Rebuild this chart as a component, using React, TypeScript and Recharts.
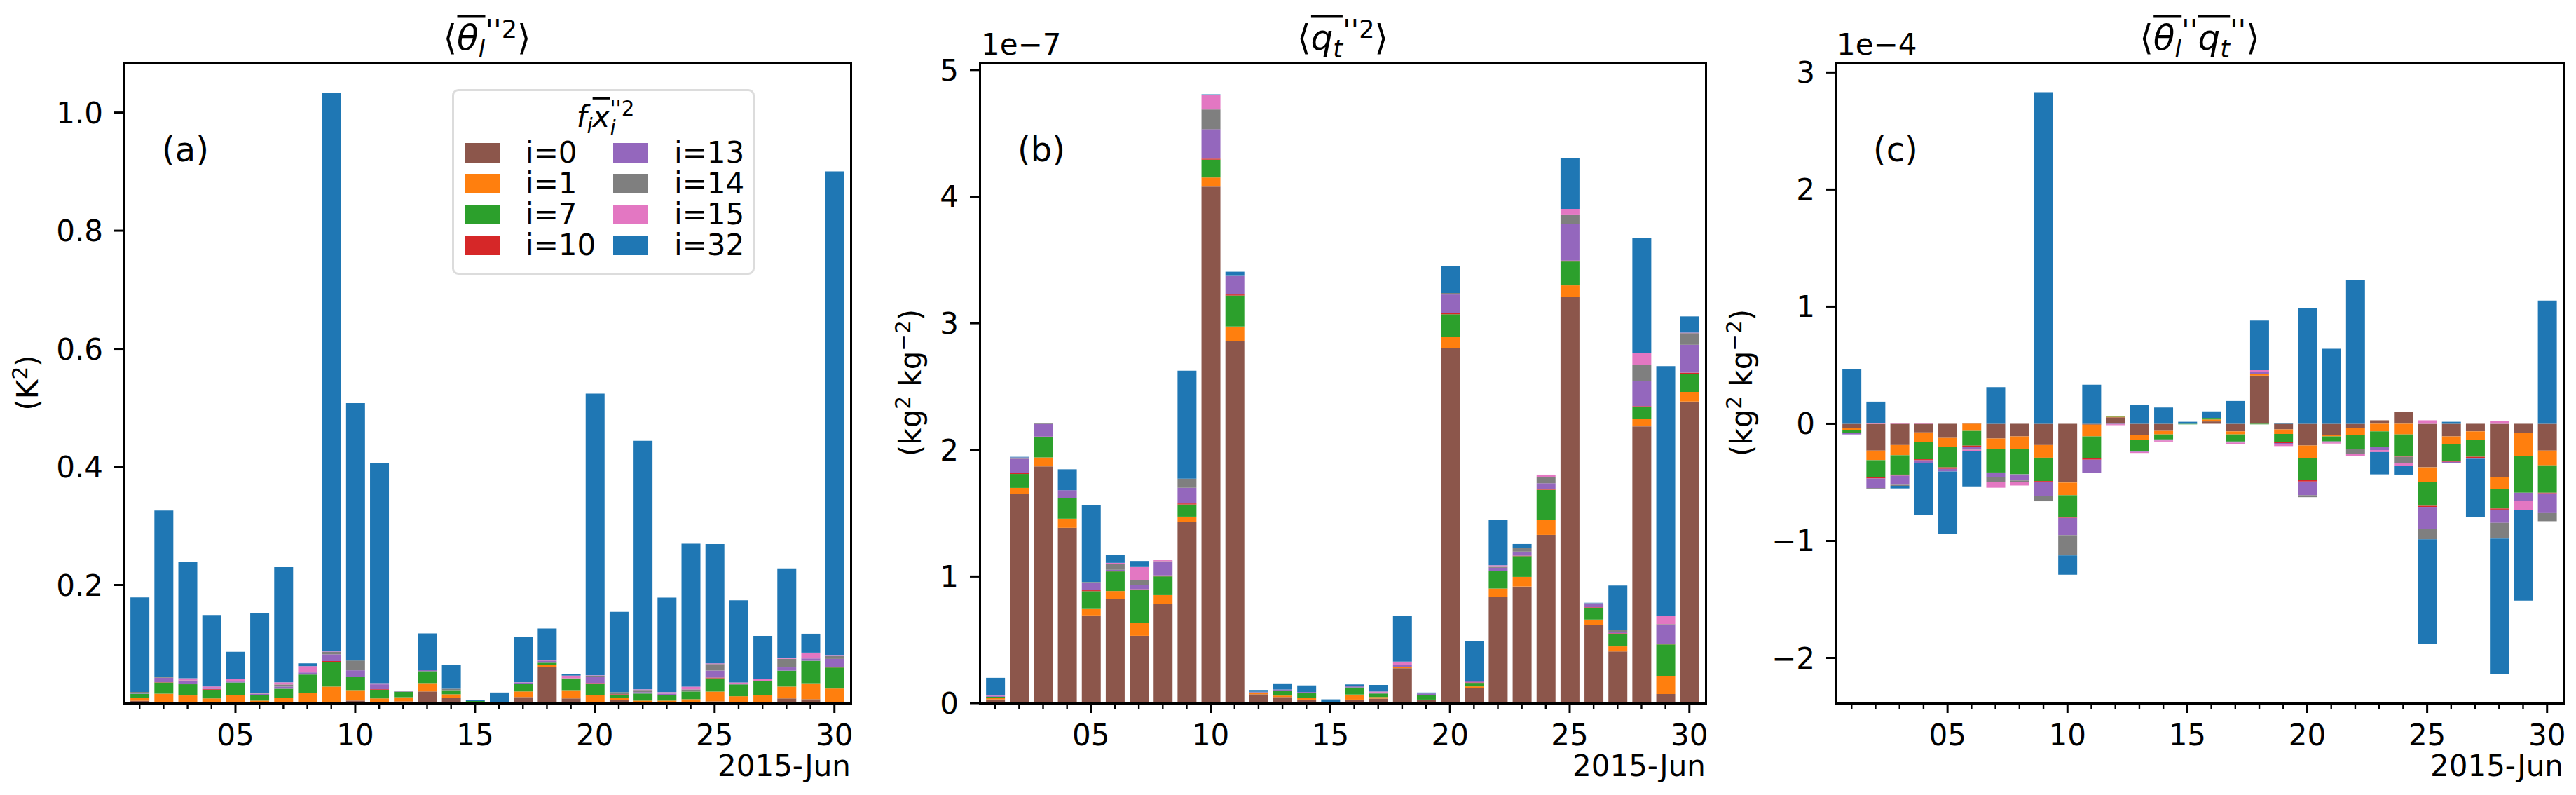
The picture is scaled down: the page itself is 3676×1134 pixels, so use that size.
import React from "react";
import { BarChart, Bar, XAxis, YAxis } from "recharts";

// days of June 2015
const days = [1, 2, 3, 4, 5, 6, 7, 8, 9, 10, 11, 12, 13, 14, 15, 16, 17, 18, 19, 20, 21, 22, 23, 24, 25, 26, 27, 28, 29, 30];

const seriesKeys = ["i0", "i1", "i7", "i10", "i13", "i14", "i15", "i32"];
const seriesNames = ["i=0", "i=1", "i=7", "i=10", "i=13", "i=14", "i=15", "i=32"];
const seriesColors = ["#8c564b", "#ff7f0e", "#2ca02c", "#d62728", "#9467bd", "#7f7f7f", "#e377c2", "#1f77b4"];

// (a) theta_l variance, K^2
const thI0 = [0.004, 0.002, 0.001, 0.001, 0.001, 0, 0.002, 0, 0.001, 0.0043, 0, 0.003, 0.0198, 0.009, 0, 0, 0.0103, 0.0613, 0.008, 0, 0.0055, 0, 0, 0, 0.003, 0.001, 0, 0.008, 0.0067, 0.001];
const thI1 = [0.005, 0.014, 0.012, 0.007, 0.013, 0.0043, 0.007, 0.0174, 0.027, 0.0178, 0.008, 0.007, 0.0142, 0.006, 0.002, 0.002, 0.0095, 0.0036, 0.014, 0.0138, 0.0036, 0.0043, 0.0043, 0.0067, 0.0166, 0.0107, 0.0138, 0.02, 0.027, 0.0237];
const thI7 = [0.007, 0.019, 0.019, 0.0146, 0.021, 0.0095, 0.0154, 0.031, 0.042, 0.0225, 0.0146, 0.0095, 0.0202, 0.007, 0.0016, 0, 0.013, 0.0036, 0.02, 0.019, 0.005, 0.012, 0.0095, 0.013, 0.0225, 0.02, 0.023, 0.027, 0.038, 0.0356];
const thI10 = [0, 0.0005, 0.0005, 0.001, 0, 0, 0, 0, 0.0012, 0, 0.001, 0, 0, 0, 0, 0, 0, 0, 0, 0.0012, 0.001, 0, 0, 0, 0.0012, 0, 0, 0, 0, 0.0012];
const thI13 = [0.001, 0.0075, 0.0055, 0.001, 0.0016, 0.002, 0.0036, 0.0036, 0.0115, 0.011, 0.0083, 0.0005, 0.0016, 0, 0, 0, 0.0016, 0.0036, 0, 0.0107, 0, 0.0024, 0.0024, 0, 0.0119, 0.001, 0, 0.0055, 0.004, 0.0134];
const thI14 = [0.002, 0.0016, 0.0005, 0, 0, 0.0005, 0.0036, 0, 0.004, 0.0166, 0, 0, 0, 0.0024, 0, 0, 0, 0, 0, 0.0016, 0.0036, 0.0036, 0, 0.0036, 0.011, 0, 0, 0.0146, 0, 0.0047];
const thI15 = [0, 0.0005, 0.0036, 0.0036, 0.0043, 0.0016, 0.0036, 0.0107, 0.0008, 0, 0.002, 0.0005, 0.0008, 0, 0, 0, 0.0008, 0.0012, 0.0047, 0.0008, 0, 0.001, 0.0024, 0.0047, 0.0012, 0.0024, 0.0043, 0.0012, 0.0099, 0.0008];
const thI32 = [0.16, 0.281, 0.197, 0.121, 0.046, 0.135, 0.195, 0.0047, 0.946, 0.436, 0.373, 0, 0.0615, 0.04, 0.002, 0.016, 0.077, 0.053, 0.0024, 0.477, 0.136, 0.421, 0.16, 0.242, 0.202, 0.139, 0.073, 0.152, 0.032, 0.82];

// (b) q_t variance, units of 1e-7 kg^2 kg^-2
const qtI0 = [0.03, 1.65, 1.87, 1.385, 0.693, 0.82, 0.532, 0.785, 1.433, 4.079, 2.858, 0.07, 0.048, 0.028, 0, 0.028, 0.036, 0.276, 0.024, 2.802, 0.12, 0.841, 0.921, 1.329, 3.207, 0.62, 0.408, 2.186, 0.072, 2.382];
const qtI1 = [0.01, 0.05, 0.07, 0.072, 0.056, 0.065, 0.104, 0.068, 0.04, 0.072, 0.116, 0.01, 0.012, 0.016, 0, 0.04, 0.012, 0.008, 0.004, 0.088, 0.012, 0.064, 0.076, 0.116, 0.092, 0.04, 0.04, 0.056, 0.144, 0.076];
const qtI7 = [0.01, 0.11, 0.16, 0.16, 0.135, 0.155, 0.255, 0.148, 0.096, 0.141, 0.245, 0.005, 0.04, 0.036, 0, 0.056, 0.028, 0.004, 0.036, 0.181, 0.028, 0.136, 0.164, 0.24, 0.188, 0.093, 0.096, 0.1, 0.248, 0.144];
const qtI10 = [0, 0.01, 0.005, 0.005, 0.007, 0.005, 0.008, 0.008, 0.008, 0.008, 0.008, 0, 0, 0, 0, 0, 0, 0, 0, 0.008, 0.004, 0.004, 0.004, 0.008, 0.008, 0.004, 0.008, 0.004, 0.004, 0.008];
const qtI13 = [0.005, 0.11, 0.1, 0.06, 0.06, 0.008, 0.032, 0.108, 0.124, 0.232, 0.148, 0.005, 0.008, 0.008, 0, 0.008, 0.008, 0.016, 0.012, 0.148, 0.008, 0.024, 0.032, 0.044, 0.288, 0.024, 0.008, 0.196, 0.152, 0.22];
const qtI14 = [0, 0.005, 0.005, 0, 0.005, 0.047, 0.043, 0.004, 0.072, 0.156, 0, 0, 0, 0, 0, 0, 0, 0, 0, 0.012, 0, 0.008, 0.032, 0.048, 0.076, 0.004, 0.02, 0.128, 0.004, 0.092];
const qtI15 = [0.005, 0.005, 0, 0, 0, 0.008, 0.101, 0.008, 0, 0.116, 0.004, 0, 0, 0, 0, 0, 0.008, 0.024, 0, 0, 0.004, 0.012, 0, 0.02, 0.044, 0.004, 0, 0.096, 0.065, 0.004];
const qtI32 = [0.14, 0.005, 0, 0.165, 0.605, 0.065, 0.048, 0, 0.853, 0.004, 0.028, 0.014, 0.048, 0.052, 0.03, 0.016, 0.052, 0.361, 0.008, 0.212, 0.312, 0.356, 0.028, 0, 0.404, 0.004, 0.349, 0.905, 1.973, 0.128];

// (c) covariance, units of 1e-4 kg^2 kg^-2
const cvI0 = [-0.035, -0.229, -0.182, -0.074, -0.121, 0.004, -0.126, -0.108, -0.182, -0.502, -0.008, 0.055, -0.095, -0.061, 0, 0.02, -0.065, 0.411, -0.048, -0.186, -0.095, -0.035, 0.03, 0.1, -0.372, -0.108, -0.065, -0.455, -0.078, -0.229];
const cvI1 = [-0.017, -0.082, -0.087, -0.082, -0.078, -0.061, -0.091, -0.108, -0.108, -0.108, -0.1, 0.005, -0.043, -0.03, 0, 0.017, -0.026, 0.013, -0.039, -0.108, -0.013, -0.061, -0.065, -0.091, -0.126, -0.065, -0.074, -0.104, -0.199, -0.126];
const cvI7 = [-0.026, -0.147, -0.165, -0.147, -0.173, -0.126, -0.199, -0.216, -0.199, -0.19, -0.186, 0.003, -0.095, -0.043, -0.005, 0.013, -0.061, -0.005, -0.069, -0.186, -0.043, -0.121, -0.134, -0.182, -0.203, -0.143, -0.143, -0.165, -0.312, -0.234];
const cvI10 = [0, -0.009, -0.009, -0.009, -0.013, -0.009, 0, 0, -0.009, -0.004, -0.013, 0, -0.004, 0, 0, 0, 0, 0, -0.009, -0.013, 0, 0, 0, -0.009, -0.009, -0.009, -0.009, -0.009, 0, -0.005];
const cvI13 = [-0.013, -0.082, -0.078, -0.026, -0.022, -0.017, -0.039, -0.052, -0.121, -0.147, -0.113, -0.004, -0.004, -0.009, 0, 0, -0.009, 0.017, -0.009, -0.117, -0.009, 0, -0.026, 0, -0.19, -0.013, -0.009, -0.113, -0.069, -0.169];
const cvI14 = [0, -0.009, -0.009, 0, 0, -0.009, -0.039, -0.013, -0.043, -0.173, 0, 0, 0, 0, 0, 0, 0, 0, 0, -0.017, 0, -0.043, 0, -0.052, -0.087, 0, 0, -0.134, 0, -0.069];
const cvI15 = [0, 0.003, 0.003, 0.003, 0, -0.009, -0.052, -0.03, 0, 0, 0, -0.008, -0.009, -0.009, 0, 0, -0.013, 0.017, -0.017, 0, -0.009, -0.017, -0.017, -0.026, 0.03, 0, 0, 0.026, -0.078, 0];
const cvI32 = [0.468, 0.186, -0.022, -0.437, -0.532, -0.303, 0.312, 0, 2.831, -0.165, 0.333, 0.005, 0.16, 0.139, 0.017, 0.056, 0.195, 0.424, 0.008, 0.991, 0.641, 1.225, -0.19, -0.074, -0.896, 0.017, -0.498, -1.156, -0.775, 1.052];

const ticksA = [0.2, 0.4, 0.6, 0.8, 1.0];
const ticksB = [0, 1, 2, 3, 4, 5];
const ticksC = [-2, -1, 0, 1, 2, 3];

const FONT = "'DejaVu Sans', sans-serif";
const TICK_FS = 42;

function buildRows(cols: number[][]) {
  return days.map((d, k) => {
    const row: any = { day: d };
    seriesKeys.forEach((key, s) => {
      row[key] = cols[s][k];
    });
    return row;
  });
}

const rowsA = buildRows([thI0, thI1, thI7, thI10, thI13, thI14, thI15, thI32]);
const rowsB = buildRows([qtI0, qtI1, qtI7, qtI10, qtI13, qtI14, qtI15, qtI32]);
const rowsC = buildRows([cvI0, cvI1, cvI7, cvI10, cvI13, cvI14, cvI15, cvI32]);

const DayTick = (props: any) => {
  const { x, y, payload } = props;
  const major = payload.value % 5 === 0;
  const len = major ? 14 : 8;
  return (
    <g>
      <line x1={x} x2={x} y1={y} y2={y + len} stroke="#000" strokeWidth={major ? 3 : 2.4} />
      {major && (
        <text x={x} y={y + 60} textAnchor="middle" fontSize={TICK_FS} fontFamily={FONT} fill="#000">
          {String(payload.value).padStart(2, "0")}
        </text>
      )}
    </g>
  );
};

const ValueTick = (props: any) => {
  const { x, y, payload, fmt } = props;
  return (
    <g>
      <line x1={x} x2={x - 14} y1={y} y2={y} stroke="#000" strokeWidth={3} />
      <text x={x - 30} y={y + 15} textAnchor="end" fontSize={TICK_FS} fontFamily={FONT} fill="#000">
        {fmt(payload.value)}
      </text>
    </g>
  );
};

const fmtA = (v: number) => v.toFixed(1);
const fmtInt = (v: number) => (v < 0 ? "\u2212" + Math.abs(v) : String(v));

type PanelProps = {
  left: number;
  width: number;
  yw: number;
  right: number;
  rows: any[];
  domain: [number, number];
  ticks: number[];
  fmt: (v: number) => string;
};

function Panel({ left, width, yw, right, rows, domain, ticks, fmt }: PanelProps) {
  return (
    <div style={{ position: "absolute", left, top: 0 }}>
      <BarChart
        width={width}
        height={1134}
        data={rows}
        stackOffset="sign"
        margin={{ top: 89, right, bottom: 0, left: 0 }}
      >
        <XAxis
          dataKey="day"
          type="number"
          domain={[0.35, 30.68]}
          allowDataOverflow
          ticks={days}
          interval={0}
          height={131}
          axisLine={false}
          tickLine={false}
          tickSize={0}
          tickMargin={0}
          tick={(p: any) => <DayTick {...p} />}
        />
        <YAxis
          type="number"
          domain={domain}
          allowDataOverflow
          ticks={ticks}
          interval={0}
          width={yw}
          axisLine={false}
          tickLine={false}
          tickSize={0}
          tickMargin={0}
          tick={(p: any) => <ValueTick {...p} fmt={fmt} />}
        />
        {seriesKeys.map((key, s) => (
          <Bar
            key={key}
            dataKey={key}
            name={seriesNames[s]}
            stackId="s"
            fill={seriesColors[s]}
            barSize={27}
            isAnimationActive={false}
          />
        ))}
      </BarChart>
    </div>
  );
}

// overline drawn as a top border so it sits clear of the glyphs
const Ov = ({ children }: any) => (
  <span style={{ display: "inline-block", borderTop: "3px solid #000", paddingTop: 4, lineHeight: 1 }}>{children}</span>
);
const Sub = ({ children }: any) => (
  <span style={{ fontSize: "0.7em", position: "relative", top: "0.3em" }}>{children}</span>
);
const Sup = ({ children }: any) => (
  <span style={{ fontSize: "0.7em", position: "relative", top: "-0.5em" }}>{children}</span>
);
const Primes = () => (
  <span style={{ fontSize: "0.85em", position: "relative", top: "-0.3em", fontStyle: "italic" }}>''</span>
);

const abs = (l: number, t: number, extra: any = {}) => ({ position: "absolute" as const, left: l, top: t, ...extra });

function Spine({ l, r }: { l: number; r: number }) {
  return (
    <div
      style={abs(l - 1.5, 89 - 1.5, {
        width: r - l + 3,
        height: 1003 - 89 + 3,
        border: "3px solid #000",
        boxSizing: "border-box",
        pointerEvents: "none",
      })}
    />
  );
}

function Centered({ x, y, size, children, rotate }: any) {
  return (
    <div
      style={abs(x, y, {
        transform: `translate(-50%, -50%)${rotate ? " rotate(-90deg)" : ""}`,
        fontSize: size,
        whiteSpace: "nowrap",
        lineHeight: 1,
      })}
    >
      {children}
    </div>
  );
}

function LegendBox() {
  const rows = [0, 1, 2, 3];
  return (
    <div
      style={abs(645, 127, {
        width: 432,
        height: 265,
        border: "3px solid #dcdcdc",
        borderRadius: 9,
        background: "#fff",
        boxSizing: "border-box",
      })}
    >
      <div style={abs(216, 38, { transform: "translate(-50%, -50%)", fontSize: 42, whiteSpace: "nowrap", lineHeight: 1 })}>
        <i>f</i>
        <Sub>
          <i>i</i>
        </Sub>
        <Ov>
          <i>x</i>
        </Ov>
        <span
          style={{
            display: "inline-flex",
            flexDirection: "column",
            verticalAlign: "middle",
            fontSize: "0.7em",
            lineHeight: 0.95,
          }}
        >
          <span>
            <i>''</i>2
          </span>
          <span>
            <i>i</i>
          </span>
        </span>
      </div>
      {[0, 1].map((c) =>
        rows.map((r) => {
          const s = c * 4 + r;
          const cy = 91 + r * 44 - 3;
          return (
            <React.Fragment key={s}>
              <div style={abs(c === 0 ? 15 : 227, cy - 14, { width: 50, height: 28, background: seriesColors[s] })} />
              <div style={abs(c === 0 ? 102 : 314, cy, { transform: "translateY(-50%)", fontSize: 42, lineHeight: 1 })}>
                {seriesNames[s]}
              </div>
            </React.Fragment>
          );
        })
      )}
    </div>
  );
}

export default function App() {
  return (
    <div
      style={{
        position: "absolute",
        left: 0,
        top: 0,
        width: 3676,
        height: 1134,
        background: "#fff",
        fontFamily: FONT,
        color: "#000",
        overflow: "hidden",
      }}
    >
      <Panel left={0} width={1230} yw={177} right={16} rows={rowsA} domain={[0, 1.085]} ticks={ticksA} fmt={fmtA} />
      <Panel left={1230} width={1230} yw={168} right={26} rows={rowsB} domain={[0, 5.06]} ticks={ticksB} fmt={fmtInt} />
      <Panel left={2460} width={1216} yw={160} right={18} rows={rowsC} domain={[-2.386, 3.086]} ticks={ticksC} fmt={fmtInt} />

      <Spine l={177} r={1214} />
      <Spine l={1398} r={2434} />
      <Spine l={2620} r={3658} />

      {/* titles */}
      <Centered x={695} y={50} size={50}>
        {"\u27e8"}
        <Ov>
          <i>θ</i>
          <Sub>
            <i>l</i>
          </Sub>
        </Ov>
        <Primes />
        <Sup>2</Sup>
        {"\u27e9"}
      </Centered>
      <Centered x={1916} y={50} size={50}>
        {"\u27e8"}
        <Ov>
          <i>q</i>
          <Sub>
            <i>t</i>
          </Sub>
        </Ov>
        <Primes />
        <Sup>2</Sup>
        {"\u27e9"}
      </Centered>
      <Centered x={3139} y={50} size={50}>
        {"\u27e8"}
        <Ov>
          <i>θ</i>
          <Sub>
            <i>l</i>
          </Sub>
        </Ov>
        <Primes />
        <Ov>
          <i>q</i>
          <Sub>
            <i>t</i>
          </Sub>
        </Ov>
        <Primes />
        {"\u27e9"}
      </Centered>

      {/* panel letters */}
      <div style={abs(231, 213, { transform: "translateY(-50%)", fontSize: 48, lineHeight: 1 })}>(a)</div>
      <div style={abs(1452, 213, { transform: "translateY(-50%)", fontSize: 48, lineHeight: 1 })}>(b)</div>
      <div style={abs(2673, 213, { transform: "translateY(-50%)", fontSize: 48, lineHeight: 1 })}>(c)</div>

      {/* offset texts */}
      <div style={abs(1400, 64, { transform: "translateY(-50%)", fontSize: TICK_FS, lineHeight: 1 })}>1e{"\u2212"}7</div>
      <div style={abs(2621, 64, { transform: "translateY(-50%)", fontSize: TICK_FS, lineHeight: 1 })}>1e{"\u2212"}4</div>

      {/* date labels */}
      {[1214, 2434, 3658].map((r) => (
        <div key={r} style={abs(r, 1093, { transform: "translate(-100%, -50%)", fontSize: TICK_FS, lineHeight: 1, whiteSpace: "nowrap" })}>
          2015-Jun
        </div>
      ))}

      {/* y labels */}
      <Centered x={40} y={546} size={TICK_FS} rotate>
        (K<Sup>2</Sup>)
      </Centered>
      <Centered x={1300} y={546} size={TICK_FS} rotate>
        (kg<Sup>2</Sup> kg<Sup>{"\u2212"}2</Sup>)
      </Centered>
      <Centered x={2486} y={546} size={TICK_FS} rotate>
        (kg<Sup>2</Sup> kg<Sup>{"\u2212"}2</Sup>)
      </Centered>

      <LegendBox />
    </div>
  );
}
